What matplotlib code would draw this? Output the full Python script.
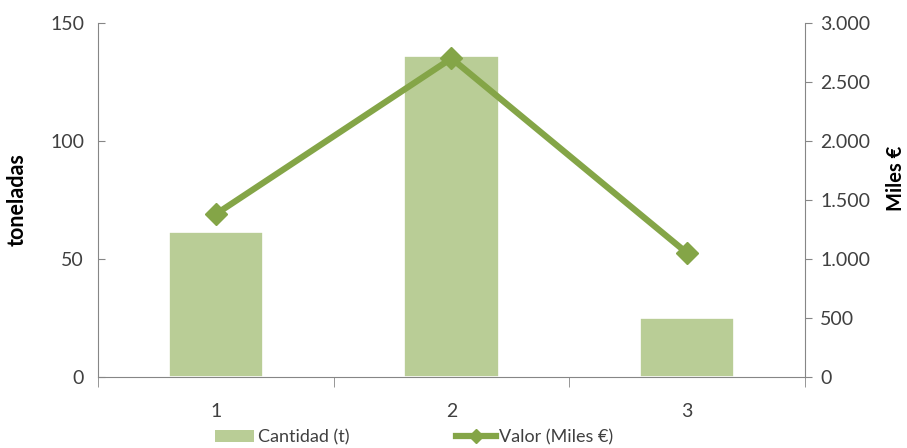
import numpy as np
import matplotlib.pyplot as plt
from matplotlib.lines import Line2D
from matplotlib.patches import Patch
from matplotlib.ticker import FuncFormatter

plt.rcParams['font.family'] = ['Lato', 'DejaVu Sans']

categorias = ["1", "2", "3"]
cantidad = [61.5, 136, 25]          # toneladas
valor = [1380, 2700, 1050]          # Miles €

verde_barra = "#B9CD96"
verde_linea = "#84A547"
gris = "#868686"
texto = "#404040"

fig = plt.figure(figsize=(9.07, 4.48), dpi=100)
ax = fig.add_axes([0.108, 0.1585, 0.7795, 0.7902])
ax2 = ax.twinx()

x = np.arange(len(categorias))
ax.bar(x, cantidad, width=0.4, color=verde_barra, edgecolor="white", linewidth=1.2, zorder=2)
ax2.plot(x, valor, color=verde_linea, linewidth=4.5, marker="D", markersize=11,
         markeredgecolor=verde_linea, zorder=3)

ax.set_xlim(-0.5, 2.5)
ax.set_ylim(0, 150)
ax2.set_ylim(0, 3000)
ax.set_yticks([0, 50, 100, 150])
ax2.set_yticks(np.arange(0, 3001, 500))
ax2.yaxis.set_major_formatter(FuncFormatter(lambda v, p: f"{int(v):,}".replace(",", ".")))

ax.set_xticks(x)
ax.set_xticklabels(categorias)
ax.set_xticks([-0.5, 0.5, 1.5, 2.5], minor=True)
ax.tick_params(axis="x", which="major", length=0, pad=19, labelsize=14, labelcolor=texto)
ax.tick_params(axis="x", which="minor", length=7, color=gris, direction="out")
ax.tick_params(axis="y", length=5, color=gris, direction="in", labelsize=14, labelcolor=texto, pad=10)
ax2.tick_params(axis="y", length=5, color=gris, direction="out", labelsize=14, labelcolor=texto, pad=6)

for a in (ax, ax2):
    for s in a.spines.values():
        s.set_visible(False)
ax.spines["left"].set_visible(True)
ax.spines["bottom"].set_visible(True)
ax2.spines["right"].set_visible(True)
ax.spines["left"].set_color(gris)
ax.spines["bottom"].set_color(gris)
ax2.spines["right"].set_color(gris)

ax.set_ylabel("toneladas", fontsize=15.5, fontweight="bold", color="black")
ax.yaxis.set_label_coords(-0.1, 0.5)
ax2.set_ylabel("Miles €", fontsize=14.5, fontweight="bold", color="black", rotation=90)
ax2.yaxis.set_label_coords(1.115, 0.56)

handles = [Patch(facecolor=verde_barra, edgecolor="none"),
           Line2D([0], [0], color=verde_linea, linewidth=4.5, marker="D", markersize=7)]
fig.legend(handles, ["Cantidad (t)", "Valor (Miles €)"], loc="lower center",
           bbox_to_anchor=(0.4565, -0.03), ncol=2, frameon=False, fontsize=13,
           labelcolor=texto, columnspacing=5.9, handlelength=2.2, handletextpad=0.2)

fig.savefig("out.png", dpi=100)
